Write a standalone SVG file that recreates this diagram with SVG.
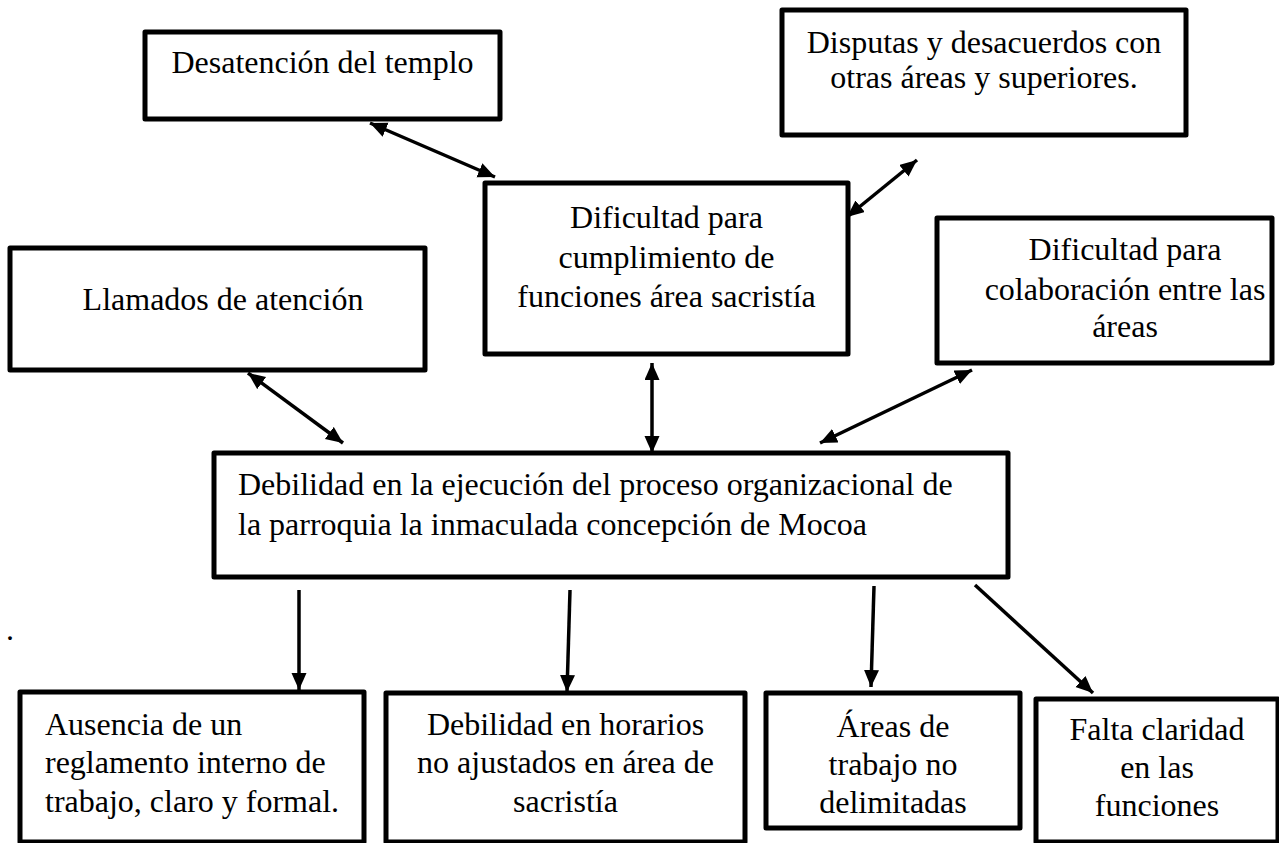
<svg xmlns="http://www.w3.org/2000/svg" width="1279" height="843" viewBox="0 0 1279 843">
<style>
.box{fill:#fff;stroke:#000;stroke-width:5;stroke-linejoin:round}
.t{font-family:"Liberation Serif","Times New Roman",serif;font-size:32px;fill:#000}
.c{text-anchor:middle}
.ln{stroke:#000;stroke-width:3.5;fill:none}
.dbl{marker-start:url(#ah);marker-end:url(#ah)}
.one{marker-end:url(#ah)}
</style>
<defs>
<marker id="ah" markerUnits="userSpaceOnUse" markerWidth="20" markerHeight="18" refX="17" refY="7.5" orient="auto-start-reverse">
<path d="M0,0 L17,7.5 L0,15 z" fill="#000"/>
</marker>
</defs>
<rect width="1279" height="843" fill="#fff"/>
<g id="connectors">
<line class="ln dbl" x1="370" y1="123" x2="495" y2="177"/>
<line class="ln dbl" x1="917" y1="160" x2="847" y2="217"/>
<line class="ln dbl" x1="652" y1="363" x2="652" y2="453"/>
<line class="ln dbl" x1="248" y1="373" x2="343" y2="443"/>
<line class="ln dbl" x1="972" y1="370" x2="820" y2="443"/>
<line class="ln one" x1="299" y1="590" x2="299" y2="690"/>
<line class="ln one" x1="570" y1="590" x2="567" y2="692"/>
<line class="ln one" x1="874" y1="586" x2="871" y2="687"/>
<line class="ln one" x1="975" y1="585" x2="1093" y2="693"/>
</g>
<g id="n-desatencion">
<rect class="box" x="145" y="32" width="355" height="87"/>
<text class="t c" x="322.5" y="73">Desatención del templo</text>
</g>
<g id="n-disputas">
<rect class="box" x="782" y="10" width="404" height="125"/>
<text class="t c" x="984" y="53">Disputas y desacuerdos con</text>
<text class="t c" x="984" y="88">otras áreas y superiores.</text>
</g>
<g id="n-dificultad-cumplimiento">
<rect class="box" x="485" y="183" width="363" height="171"/>
<text class="t c" x="666.5" y="228">Dificultad para</text>
<text class="t c" x="666.5" y="268">cumplimiento de</text>
<text class="t c" x="666.5" y="307">funciones área sacristía</text>
</g>
<g id="n-llamados">
<rect class="box" x="10" y="248" width="415" height="122"/>
<text class="t c" x="223" y="310">Llamados de atención</text>
</g>
<g id="n-dificultad-colaboracion">
<rect class="box" x="937" y="218" width="335" height="145"/>
<text class="t c" x="1125" y="260">Dificultad para</text>
<text class="t c" x="1125" y="300">colaboración entre las</text>
<text class="t c" x="1125" y="337">áreas</text>
</g>
<g id="n-debilidad-proceso">
<rect class="box" x="214" y="453" width="794" height="124"/>
<text class="t" x="238" y="495">Debilidad en la ejecución del proceso organizacional de</text>
<text class="t" x="238" y="535">la parroquia la inmaculada concepción de Mocoa</text>
</g>
<text class="t" x="6" y="640">.</text>
<g id="n-ausencia">
<rect class="box" x="20" y="692" width="344" height="150"/>
<text class="t" x="45" y="735">Ausencia de un</text>
<text class="t" x="45" y="773">reglamento interno de</text>
<text class="t" x="45" y="812">trabajo, claro y formal.</text>
</g>
<g id="n-horarios">
<rect class="box" x="386" y="693" width="359" height="149"/>
<text class="t c" x="565.5" y="735">Debilidad en horarios</text>
<text class="t c" x="565.5" y="773">no ajustados en área de</text>
<text class="t c" x="565.5" y="812">sacristía</text>
</g>
<g id="n-areas">
<rect class="box" x="766" y="693" width="254" height="135"/>
<text class="t c" x="893" y="737">Áreas de</text>
<text class="t c" x="893" y="775">trabajo no</text>
<text class="t c" x="893" y="813">delimitadas</text>
</g>
<g id="n-falta">
<rect class="box" x="1036" y="699" width="242" height="143"/>
<text class="t c" x="1157" y="740">Falta claridad</text>
<text class="t c" x="1157" y="778">en las</text>
<text class="t c" x="1157" y="816">funciones</text>
</g>
</svg>
